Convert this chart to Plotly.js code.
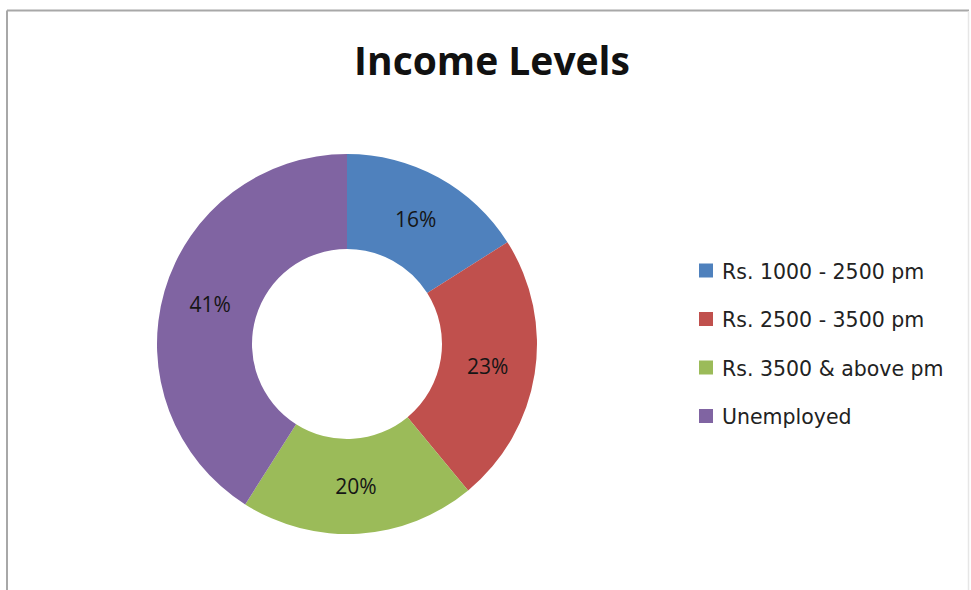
<!DOCTYPE html>
<html>
<head>
<meta charset="utf-8">
<script src="https://cdn.plot.ly/plotly-3.0.1.min.js"></script>
<style>
html,body{margin:0;padding:0;background:#fff;}
#chart{width:971px;height:590px;}
</style>
</head>
<body>
<div id="chart"></div>
<script>
const labels = ["Rs. 1000 - 2500 pm", "Rs. 2500 - 3500 pm", "Rs. 3500 & above pm", "Unemployed"];
const values = [16, 23, 20, 41];
const colors = ["#4F81BD", "#C0504D", "#9BBB59", "#8064A2"];
const titleText = "Income Levels";

const W = 971, H = 590;
const FONT = "Open Sans, Noto Sans, sans-serif";
const LEGFONT = "DejaVu Sans, Open Sans, sans-serif";

const trace = {
  type: "pie",
  labels: labels,
  values: values,
  marker: {colors: colors, line: {color: "#ffffff", width: 0}},
  hole: 0.5,
  sort: false,
  direction: "clockwise",
  rotation: 0,
  textinfo: "percent",
  texttemplate: "%{percent:.0%}",
  textposition: "inside",
  insidetextorientation: "horizontal",
  textfont: {family: FONT, size: 21, color: "#151515"},
  domain: {x: [(347 - 190) / W, (347 + 190) / W], y: [(H - 344 - 190) / H, (H - 344 + 190) / H]},
  showlegend: false,
  hoverinfo: "label+percent"
};

// Legend built from the label/color arrays
const annotations = [];
const shapes = [];
const legX = 699, legY0 = 270.5, legStep = 48.5, sq = 14;
labels.forEach((lab, i) => {
  const cy = legY0 + i * legStep;
  shapes.push({
    type: "rect", xref: "paper", yref: "paper",
    x0: legX / W, x1: (legX + sq) / W,
    y0: 1 - (cy + sq / 2) / H, y1: 1 - (cy - sq / 2) / H,
    fillcolor: colors[i], line: {width: 0}
  });
  annotations.push({
    xref: "paper", yref: "paper",
    x: (legX + sq + 7) / W, y: 1 - (cy + 1) / H,
    xanchor: "left", yanchor: "middle",
    text: lab, showarrow: false,
    font: {family: LEGFONT, size: 20.5, color: "#222222"}
  });
});

// Outer frame: top and left darker, right very faint
shapes.push({type: "line", xref: "paper", yref: "paper",
  x0: 7 / W, x1: 969 / W, y0: 1 - 10.5 / H, y1: 1 - 10.5 / H,
  line: {color: "#a8a8a8", width: 2}});
shapes.push({type: "line", xref: "paper", yref: "paper",
  x0: 7 / W, x1: 7 / W, y0: 0, y1: 1 - 10.5 / H,
  line: {color: "#a8a8a8", width: 2}});
shapes.push({type: "line", xref: "paper", yref: "paper",
  x0: 968.5 / W, x1: 968.5 / W, y0: 0, y1: 1 - 11 / H,
  line: {color: "#e6e6e6", width: 1.5}});

const layout = {
  width: W, height: H,
  margin: {l: 0, r: 0, t: 0, b: 0},
  paper_bgcolor: "#ffffff",
  plot_bgcolor: "#ffffff",
  title: {
    text: "<b>" + titleText + "</b>",
    x: 492 / W, xanchor: "center",
    y: 1 - 61 / H, yanchor: "middle",
    font: {family: FONT, size: 39, color: "#111111"}
  },
  showlegend: false,
  shapes: shapes,
  annotations: annotations
};

Plotly.newPlot("chart", [trace], layout, {displayModeBar: false, staticPlot: true});
</script>
</body>
</html>
